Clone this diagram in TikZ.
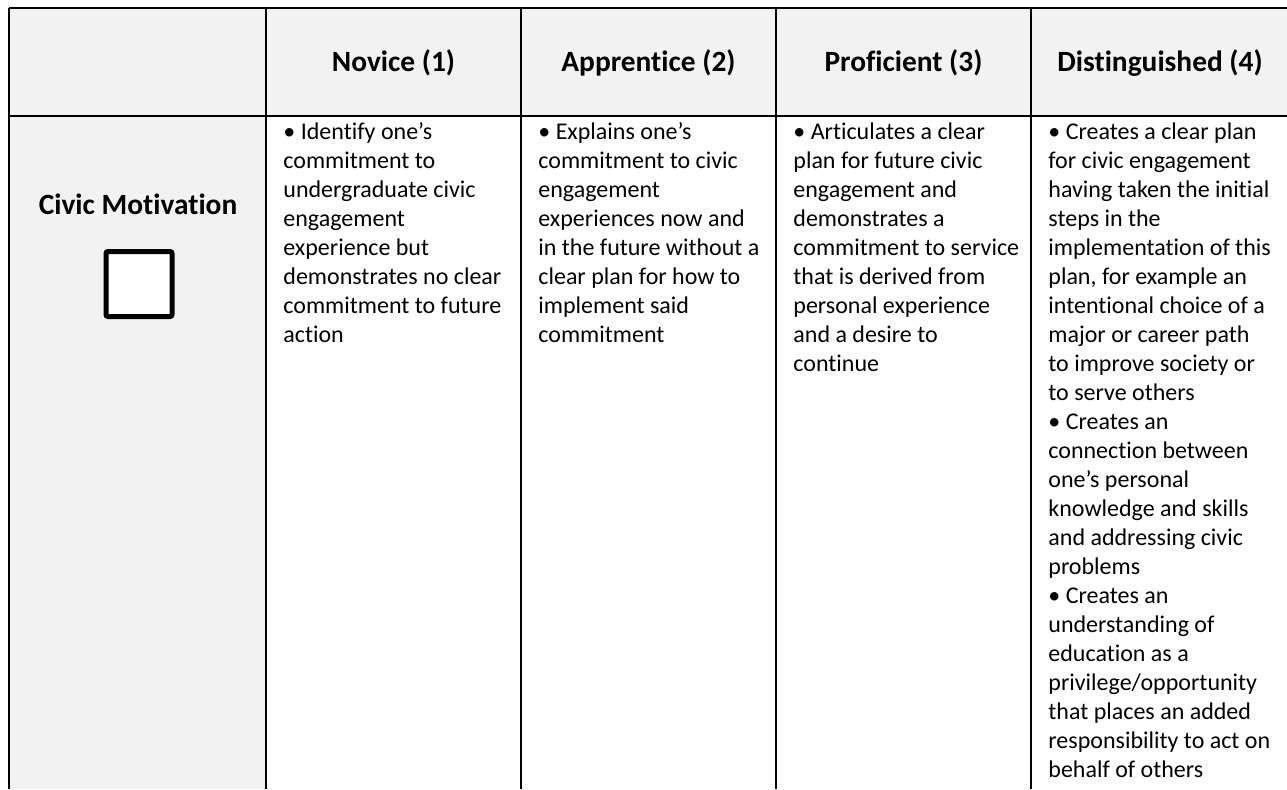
\documentclass[tikz,border=0pt]{standalone}
\usepackage{fontspec}
\setmainfont{Carlito}[Ligatures={NoCommon}]
\definecolor{cellgray}{HTML}{F2F2F2}
\tikzset{
  rule/.style={line width=1pt},
  head/.style={font=\bfseries\fontsize{14.7}{17}\selectfont},
  cell/.style={anchor=north west,align=left,inner sep=0pt,
    font=\fontsize{12}{14.5}\selectfont},
  tickbox/.style={draw,line width=2.5pt,rounded corners=1pt,fill=white,
    minimum width=33pt,minimum height=32.5pt}
}
\begin{document}
\begin{tikzpicture}[x=0.5pt,y=-0.5pt]
	\useasboundingbox (0,0) rectangle (1287,789);
	% shading of the header row and the first column
	\fill[cellgray] (9,8) rectangle (1287,116);
	\fill[cellgray] (9,116) rectangle (266,789);
	% rules
	\draw[rule] (9,8) -- (1287,8);
	\draw[rule] (9,116) -- (1287,116);
	\foreach \x in {9,266,521,776,1031} \draw[rule] (\x,8) -- (\x,789);
	% header row
	\node[head] (novice) at (393.5,63) {Novice (1)};
	\node[head] (apprentice) at (648.5,63) {Apprentice (2)};
	\node[head] (proficient) at (903.5,63) {Proficient (3)};
	\node[head] (distinguished) at (1160,63) {Distinguished (4)};
	% row label
	\node[head] (civic) at (138,204) {Civic Motivation};
	\node[tickbox] (civicbox) at (139,284) {};
	% cells
	\node[cell] (cnovice) at (283,122) {• Identify one’s\\commitment to\\undergraduate civic\\engagement\\experience but\\demonstrates no clear\\commitment to future\\action};
	\node[cell] (capprentice) at (538,122) {• Explains one’s\\commitment to civic\\engagement\\experiences now and\\in the future without a\\clear plan for how to\\implement said\\commitment};
	\node[cell] (cproficient) at (793,122) {• Articulates a clear\\plan for future civic\\engagement and\\demonstrates a\\commitment to service\\that is derived from\\personal experience\\and a desire to\\continue};
	\node[cell] (cdistinguished) at (1048,122) {• Creates a clear plan\\for civic engagement\\having taken the initial\\steps in the\\implementation of this\\plan, for example an\\intentional choice of a\\major or career path\\to improve society or\\to serve others\\• Creates an\\connection between\\one’s personal\\knowledge and skills\\and addressing civic\\problems\\• Creates an\\understanding of\\education as a\\privilege/opportunity\\that places an added\\responsibility to act on\\behalf of others};
\end{tikzpicture}
\end{document}
